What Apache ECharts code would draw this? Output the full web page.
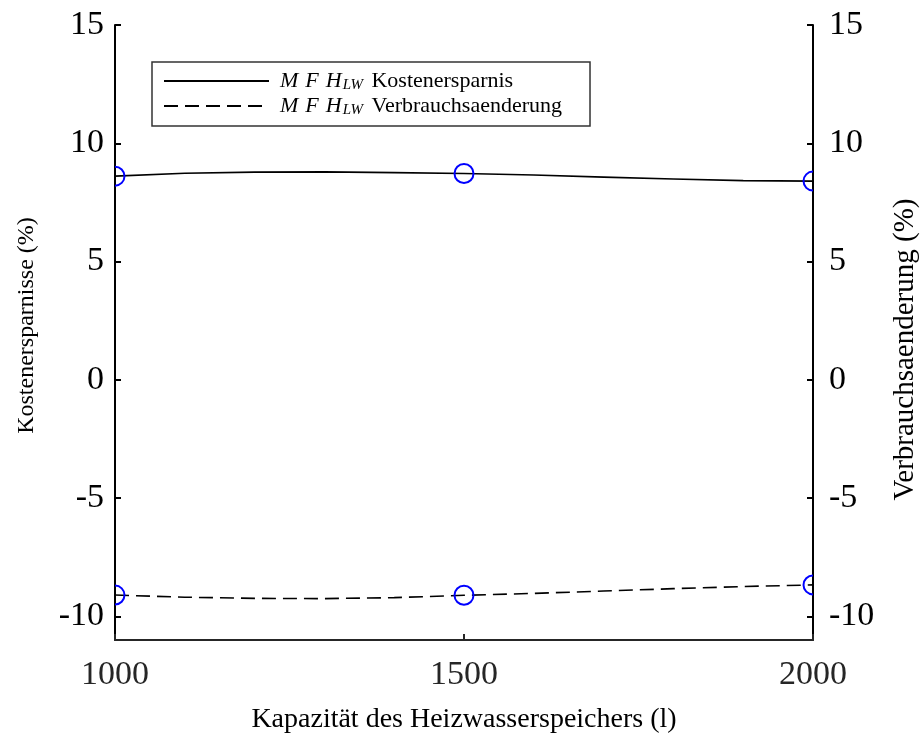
<!DOCTYPE html>
<html>
<head>
<meta charset="utf-8">
<script src="https://cdn.jsdelivr.net/npm/echarts@6/dist/echarts.min.js"></script>
<style>
  html, body { margin: 0; padding: 0; background: #fff; }
  #chart { width: 921px; height: 735px; }
</style>
</head>
<body>
<div id="chart"></div>
<script>
// Simulated storage capacities (litres) and results at those sizes
const capacity = [1000, 1500, 2000];
const savings = [8.61, 8.72, 8.40];          // Kostenersparnis (%)
const consumption = [-9.10, -9.11, -8.67];   // Verbrauchsaenderung (%)

// Fitted curves through the simulated results
const curveCapacity = [1000, 1100, 1200, 1300, 1400, 1500, 1600, 1700, 1800, 1900, 2000];
const savingsCurve = [8.61, 8.73, 8.78, 8.79, 8.76, 8.72, 8.66, 8.57, 8.49, 8.42, 8.40];
const consumptionCurve = [-9.10, -9.19, -9.24, -9.25, -9.21, -9.11, -9.03, -8.93, -8.83, -8.74, -8.67];

// Axis tick values
const xTicks = [1000, 1500, 2000];
const yTicks = [-10, -5, 0, 5, 10, 15];

const FONT = '"Liberation Serif", "DejaVu Serif", serif';
const pairs = (xs, ys) => xs.map((x, i) => [x, ys[i]]);

// Open blue circles, clipped to the plotting area
function circleMarker(params, api) {
  const p = api.coord([api.value(0), api.value(1)]);
  const cs = params.coordSys;
  return {
    type: 'circle',
    shape: { cx: p[0], cy: p[1], r: 9.5 },
    style: { fill: 'none', stroke: '#0000ff', lineWidth: 2 },
    clipPath: { type: 'rect', shape: { x: cs.x, y: cs.y, width: cs.width, height: cs.height } }
  };
}

const yAxisCommon = {
  type: 'value',
  min: -11,
  max: 15,
  nameLocation: 'middle',
  nameRotate: 90,
  axisLine: { show: true, onZero: false, lineStyle: { color: '#000', width: 2 } },
  axisTick: { show: true, inside: true, length: 6, customValues: yTicks, lineStyle: { color: '#000', width: 2 } },
  axisLabel: { customValues: yTicks, fontFamily: FONT, fontSize: 34, color: '#000' },
  splitLine: { show: false }
};

const chart = echarts.init(document.getElementById('chart'), null, { renderer: 'canvas' });
chart.setOption({
  animation: false,
  backgroundColor: '#fff',
  grid: { left: 115, right: 108, top: 25, bottom: 95, containLabel: false, outerBoundsMode: 'none' },
  xAxis: {
    type: 'value',
    min: 1000,
    max: 2000,
    interval: 500,
    name: 'Kapazität des Heizwasserspeichers (l)',
    nameLocation: 'middle',
    nameGap: 66,
    nameTextStyle: { fontFamily: FONT, fontSize: 28, color: '#000' },
    axisLine: { onZero: false, lineStyle: { color: '#262626', width: 2 } },
    axisTick: { inside: true, length: 6, customValues: xTicks, lineStyle: { color: '#262626', width: 2 } },
    axisLabel: { customValues: xTicks, formatter: v => String(v), fontFamily: FONT, fontSize: 34, color: '#262626', margin: 18 },
    splitLine: { show: false }
  },
  yAxis: [
    Object.assign({}, yAxisCommon, {
      position: 'left',
      name: 'Kostenersparnisse (%)',
      nameGap: 76,
      nameTextStyle: { fontFamily: FONT, fontSize: 24, color: '#000', padding: [0, 0, 0, 14] },
      axisLabel: Object.assign({}, yAxisCommon.axisLabel, { margin: 11 })
    }),
    Object.assign({}, yAxisCommon, {
      position: 'right',
      name: 'Verbrauchsaenderung (%)',
      nameGap: 78,
      nameTextStyle: { fontFamily: FONT, fontSize: 29, color: '#000', padding: [0, 34, 0, 0] },
      axisLabel: Object.assign({}, yAxisCommon.axisLabel, { margin: 16 })
    })
  ],
  legend: {
    data: ['Kostenersparnis', 'Verbrauchsaenderung'],
    orient: 'vertical',
    left: 152,
    top: 62,
    padding: [8, 28, 8, 11],
    itemGap: 2,
    itemWidth: 105,
    itemHeight: 14,
    itemStyle: { opacity: 0 },
    borderColor: '#333',
    borderWidth: 1.5,
    backgroundColor: '#fff',
    selectedMode: false,
    formatter: name => '{a|M}{m|F}{h|H}{s|LW}{t| ' + name + '}',
    textStyle: {
      fontFamily: FONT,
      color: '#000',
      rich: {
        a: { fontFamily: FONT, fontStyle: 'italic', fontSize: 22, lineHeight: 24, padding: [0, 7, 0, 6] },
        m: { fontFamily: FONT, fontStyle: 'italic', fontSize: 22, lineHeight: 24, padding: [0, 7, 0, 0] },
        h: { fontFamily: FONT, fontStyle: 'italic', fontSize: 22, lineHeight: 24, padding: [0, 1, 0, 0] },
        s: { fontFamily: FONT, fontStyle: 'italic', fontSize: 15, lineHeight: 15, verticalAlign: 'bottom' },
        t: { fontFamily: FONT, fontSize: 22, lineHeight: 24, padding: [0, 0, 0, 3] }
      }
    }
  },
  series: [
    {
      name: 'Kostenersparnis',
      type: 'line',
      yAxisIndex: 0,
      data: pairs(curveCapacity, savingsCurve),
      symbol: 'none',
      smooth: false,
      lineStyle: { color: '#000', width: 1.6, type: 'solid' },
      itemStyle: { color: '#000' },
      z: 2
    },
    {
      name: 'Verbrauchsaenderung',
      type: 'line',
      yAxisIndex: 1,
      data: pairs(curveCapacity, consumptionCurve),
      symbol: 'none',
      smooth: false,
      lineStyle: { color: '#000', width: 1.6, type: [14, 7] },
      itemStyle: { color: '#000' },
      z: 2
    },
    {
      name: 'Kostenersparnis Simulation',
      type: 'custom',
      yAxisIndex: 0,
      data: pairs(capacity, savings),
      renderItem: circleMarker,
      z: 3
    },
    {
      name: 'Verbrauchsaenderung Simulation',
      type: 'custom',
      yAxisIndex: 1,
      data: pairs(capacity, consumption),
      renderItem: circleMarker,
      z: 3
    }
  ]
});
</script>
</body>
</html>
